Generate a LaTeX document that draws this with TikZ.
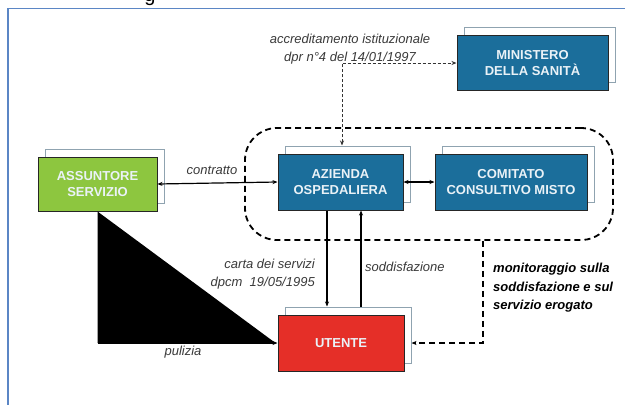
\documentclass[tikz,border=0pt]{standalone}
\usepackage{fontspec}
\setmainfont{Liberation Sans}
\usetikzlibrary{arrows.meta,calc}
\definecolor{boxblue}{HTML}{1B6E9B}
\definecolor{boxgreen}{HTML}{8DC63F}
\definecolor{boxred}{HTML}{E52F28}
\definecolor{backline}{HTML}{8FA3B0}
\definecolor{boxtext}{HTML}{EAF2F7}
\definecolor{labelgray}{HTML}{3A3A3A}
\definecolor{framec}{HTML}{5B86C5}
\tikzset{
  frontbox/.style={draw=black!85, line width=1pt, text=boxtext, align=center,
    font=\fontsize{13}{15.5}\selectfont\bfseries, inner sep=0pt},
  backbox/.style={draw=backline, fill=white, line width=1pt, inner sep=0pt},
  lbl/.style={text=labelgray, font=\fontsize{13}{18}\selectfont\itshape, inner sep=0pt},
  conn/.style={line width=1.2pt, black, -{Stealth[length=5pt,width=4pt]}},
  bconn/.style={line width=1.2pt, black, {Stealth[length=5pt,width=4pt]}-{Stealth[length=5pt,width=4pt]}},
  fineconn/.style={line width=0.8pt, black!80, dash pattern=on 3pt off 2pt,
    {Stealth[length=5pt,width=4pt]}-{Stealth[length=5pt,width=4pt]}},
  thickdash/.style={line width=1.8pt, black, dash pattern=on 6pt off 4pt},
}
\begin{document}
\begin{tikzpicture}[x=1pt,y=-1pt]
\useasboundingbox (0,0) rectangle (625,405);
\fill[white] (0,0) rectangle (625,405);
\draw[framec, line width=1.5pt] (8,410) -- (8,8.5) -- (630,8.5);
\node[anchor=base, font=\fontsize{20}{20}\selectfont] (gtxt) at (150,1) {g};

% region
\node[thickdash, draw, rounded corners=32pt, minimum width=368pt, minimum height=112pt, inner sep=0pt] (reg) at (429,184) {};

% back boxes
\node[backbox, minimum width=119pt, minimum height=54pt] (ASSb) at (104.5,176) {};
\node[backbox, minimum width=125pt, minimum height=56pt] (AZb) at (347.5,174) {};
\node[backbox, minimum width=152pt, minimum height=56pt] (COMb) at (518,174) {};
\node[backbox, minimum width=126pt, minimum height=56pt] (UTb) at (348,335) {};
\node[backbox, minimum width=151pt, minimum height=55pt] (MINb) at (539.5,55) {};

% front boxes
\node[frontbox, fill=boxgreen, minimum width=119pt, minimum height=54pt] (ASS) at (97.5,184) {ASSUNTORE\\SERVIZIO};
\node[frontbox, fill=boxblue, minimum width=125pt, minimum height=56pt] (AZ) at (340.5,182) {AZIENDA\\OSPEDALIERA};
\node[frontbox, fill=boxblue, minimum width=152pt, minimum height=56pt] (COM) at (511,182) {COMITATO\\CONSULTIVO MISTO};
\node[frontbox, fill=boxred, minimum width=126pt, minimum height=56pt] (UT) at (341,343) {UTENTE};
\node[frontbox, fill=boxblue, minimum width=151pt, minimum height=55pt] (MIN) at (532.5,63) {MINISTERO\\DELLA SANITÀ};

% triangle (pulizia)
\coordinate (tl) at (ASS.south);
\coordinate (tb) at (tl |- UT.west);
\fill[black] (tl) -- (tb) -- ($(UT.west)+(-2,0)$) -- cycle;
\draw[conn] (tb) -- (UT.west);

% connectors
\coordinate (k) at (342,63);
\draw[fineconn] (k |- AZb.north) -- (k) -- (MIN.west);
\draw[bconn] (ASS.east) -- (AZ.west);
\draw[bconn] (AZ.east) -- (COM.west);
\coordinate (c1) at (327,0);
\coordinate (c2) at (361,0);
\draw[conn] (c1 |- AZ.south) -- (c1 |- UTb.north);
\draw[conn] (c2 |- UTb.north) -- (c2 |- AZ.south);
\coordinate (m) at (483,0);
\draw[thickdash] (m |- reg.south) -- (m |- UT.east) -- ($(UTb.east |- UT.east)+(4,0)$);
\draw[conn] ($(UTb.east |- UT.east)+(4,0)$) -- (UTb.east |- UT.east);

% labels
\node[lbl, align=center] (l1) at (350,49) {accreditamento istituzionale\\dpr n°4 del 14/01/1997};
\node[lbl] (l2) at (212,170) {contratto};
\node[lbl, align=right, anchor=east] (l3) at (315,274) {carta dei servizi\\dpcm\ \ 19/05/1995};
\node[lbl, anchor=west] (l4) at (365,267) {soddisfazione};
\node[lbl] (l5) at (183,352) {pulizia};
\node[anchor=west, align=left, inner sep=0pt, font=\fontsize{13}{18.5}\selectfont\bfseries\itshape] (l6) at (493,288) {monitoraggio sulla\\soddisfazione e sul\\servizio erogato};
\end{tikzpicture}
\end{document}
